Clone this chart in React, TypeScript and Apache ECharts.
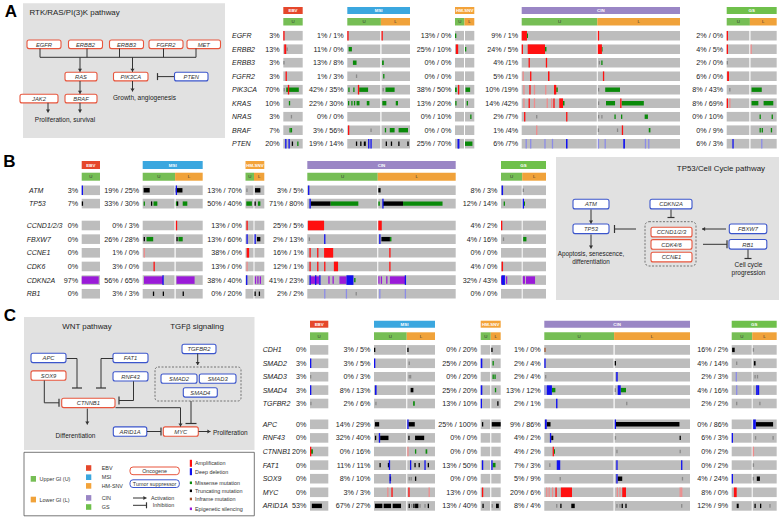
import React, { useEffect, useRef } from 'react';
import * as echarts from 'echarts';

const FONT = '"Liberation Sans", Arial, Helvetica, sans-serif';

// ---------------- data ----------------
type Mark = [string, string, number, number, string];

const subtypes = ['EBV', 'MSI', 'HM-SNV', 'CIN', 'GS'];
const segKeys = ['E', 'MU', 'ML', 'HU', 'HL', 'CU', 'CL', 'GU', 'GL'];
const segSubtype = [0, 1, 1, 2, 2, 3, 3, 4, 4];

const genesA = ['EGFR', 'ERBB2', 'ERBB3', 'FGFR2', 'PIK3CA', 'KRAS', 'NRAS', 'BRAF', 'PTEN'];
const pctA = [
  ['3%', '1% / 1%', '13% / 0%', '9% / 1%', '2% / 0%'],
  ['13%', '11% / 0%', '25% / 10%', '24% / 5%', '4% / 5%'],
  ['3%', '13% / 8%', '0% / 0%', '4% /1%', '2% / 0%'],
  ['3%', '1% / 3%', '0% / 0%', '5% /1%', '6% / 0%'],
  ['70%', '42% / 35%', '38% / 50%', '10% /19%', '8% / 43%'],
  ['10%', '22% / 30%', '13% / 20%', '14% /42%', '8% / 69%'],
  ['3%', '0% / 0%', '0% / 10%', '2% /7%', '0% / 10%'],
  ['7%', '3% / 56%', '0% / 0%', '1% /4%', '0% / 9%'],
  ['20%', '19% / 14%', '25% / 70%', '6% /7%', '6% / 3%'],
];

const genesB1 = ['ATM', 'TP53'];
const pctB1 = [
  ['3%', '19% / 25%', '13% / 70%', '3% / 5%', '8% / 3%'],
  ['7%', '33% / 30%', '50% / 40%', '71% / 80%', '12% / 14%'],
];
const genesB2 = ['CCND1/2/3', 'FBXW7', 'CCNE1', 'CDK6', 'CDKN2A', 'RB1'];
const pctB2 = [
  ['0%', '0% / 3%', '13% / 0%', '25% / 5%', '4% / 2%'],
  ['0%', '26% / 28%', '13% / 60%', '2% / 13%', '4% / 16%'],
  ['0%', '1% / 0%', '38% / 0%', '16% / 1%', '0% / 0%'],
  ['0%', '3% / 0%', '13% / 0%', '12% / 1%', '4% / 0%'],
  ['97%', '56% / 65%', '38% / 40%', '41% / 23%', '32% / 43%'],
  ['0%', '3% / 3%', '0% / 20%', '2% / 2%', '0% / 0%'],
];

const genesC1 = ['CDH1', 'SMAD2', 'SMAD3', 'SMAD4', 'TGFBR2'];
const pctC1 = [
  ['0%', '3% / 5%', '0% / 20%', '1% / 0%', '16% / 2%'],
  ['3%', '3% / 5%', '25% / 20%', '2% / 4%', '4% / 14%'],
  ['3%', '0% / 3%', '0% / 20%', '2% / 4%', '2% / 3%'],
  ['3%', '8% / 13%', '25% / 20%', '13% / 12%', '4% / 16%'],
  ['3%', '2% / 6%', '13% / 10%', '2% / 1%', '2% / 2%'],
];
const genesC2 = ['APC', 'RNF43', 'CTNNB1', 'FAT1', 'SOX9', 'MYC', 'ARID1A'];
const pctC2 = [
  ['0%', '14% / 29%', '25% / 100%', '9% / 86%', '0% / 86%'],
  ['0%', '32% / 40%', '0% / 0%', '4% / 2%', '6% / 3%'],
  ['20%', '0% / 16%', '0% / 0%', '4% / 2%', '0% / 2%'],
  ['0%', '11% / 11%', '13% / 50%', '7% / 3%', '0% / 2%'],
  ['0%', '8% / 10%', '0% / 0%', '5% / 9%', '4% / 24%'],
  ['0%', '3% / 3%', '13% / 0%', '20% / 6%', '8% / 0%'],
  ['53%', '67% / 27%', '13% / 40%', '8% / 4%', '12% / 9%'],
];

// [gene, segment, start fraction, end fraction, alteration]
const marksA: Mark[] = [
  ['EGFR', 'E', .02, .02, 'amp'], ['EGFR', 'MU', .02, .02, 'amp'], ['EGFR', 'ML', .01, .01, 'amp'],
  ['EGFR', 'HU', .05, .05, 'mis'], ['EGFR', 'CU', 0, .07, 'amp'], ['EGFR', 'CU', .075, .085, 'mis'],
  ['EGFR', 'CL', 0, 0, 'amp'], ['EGFR', 'GU', .02, .02, 'amp'],
  ['ERBB2', 'E', .05, .15, 'amp'], ['ERBB2', 'E', .2, .2, 'gry'], ['ERBB2', 'MU', .04, .14, 'mis'],
  ['ERBB2', 'HU', .1, .35, 'amp'], ['ERBB2', 'HL', .05, .05, 'mis'], ['ERBB2', 'CU', 0, 0, 'amp'],
  ['ERBB2', 'CU', .08, .31, 'amp'], ['ERBB2', 'CU', .31, .33, 'mis'], ['ERBB2', 'CL', 0, .05, 'amp'],
  ['ERBB2', 'CL', .05, .06, 'mis'], ['ERBB2', 'GU', .02, .02, 'amp'], ['ERBB2', 'GL', 0, 0, 'lamp'],
  ['ERBB3', 'E', .03, .03, 'gry'], ['ERBB3', 'MU', .17, .28, 'mis'], ['ERBB3', 'ML', .02, .08, 'mis'],
  ['ERBB3', 'CU', .1, .1, 'amp'], ['ERBB3', 'CU', .33, .33, 'amp'], ['ERBB3', 'CL', .02, .02, 'gry'],
  ['ERBB3', 'CL', .05, .05, 'mis'], ['ERBB3', 'GU', .02, .02, 'gry'],
  ['FGFR2', 'E', .15, .2, 'amp'], ['FGFR2', 'MU', .28, .28, 'gry'], ['FGFR2', 'ML', .08, .08, 'mis'],
  ['FGFR2', 'CU', .02, .02, 'lamp'], ['FGFR2', 'CU', .12, .12, 'amp'], ['FGFR2', 'CU', .35, .37, 'amp'],
  ['FGFR2', 'CL', .07, .07, 'amp'], ['FGFR2', 'GU', .02, .1, 'amp'],
  ['PIK3CA', 'E', .05, .05, 'gry'], ['PIK3CA', 'E', .15, .8, 'mis'], ['PIK3CA', 'E', .27, .27, 'amp'],
  ['PIK3CA', 'MU', .05, .05, 'mis'], ['PIK3CA', 'MU', .2, .2, 'mis'], ['PIK3CA', 'MU', .36, .63, 'mis'],
  ['PIK3CA', 'MU', .34, .34, 'amp'], ['PIK3CA', 'ML', .06, .06, 'gry'], ['PIK3CA', 'ML', .14, .46, 'mis'],
  ['PIK3CA', 'HU', 0, .2, 'mis'], ['PIK3CA', 'HU', .4, .4, 'amp'], ['PIK3CA', 'HL', .05, .55, 'mis'],
  ['PIK3CA', 'CU', .03, .03, 'lamp'], ['PIK3CA', 'CU', .11, .11, 'amp'], ['PIK3CA', 'CU', .17, .17, 'lamp'],
  ['PIK3CA', 'CU', .32, .32, 'lamp'], ['PIK3CA', 'CU', .43, .46, 'amp'], ['PIK3CA', 'CU', .46, .48, 'mis'],
  ['PIK3CA', 'CL', .01, .01, 'gry'], ['PIK3CA', 'CL', .09, .27, 'mis'], ['PIK3CA', 'GU', .14, .14, 'gry'],
  ['PIK3CA', 'GL', .04, .43, 'mis'],
  ['KRAS', 'E', .32, .38, 'mis'], ['KRAS', 'MU', .04, .04, 'mis'], ['KRAS', 'MU', .14, .14, 'mis'],
  ['KRAS', 'MU', .22, .22, 'mis'], ['KRAS', 'MU', .28, .37, 'mis'], ['KRAS', 'MU', .59, .67, 'mis'],
  ['KRAS', 'ML', .03, .17, 'mis'], ['KRAS', 'ML', .5, .58, 'mis'], ['KRAS', 'HU', .1, .1, 'mis'],
  ['KRAS', 'HL', .25, .3, 'mis'], ['KRAS', 'CU', .03, .03, 'lamp'], ['KRAS', 'CU', .1, .1, 'amp'],
  ['KRAS', 'CU', .17, .17, 'lamp'], ['KRAS', 'CU', .34, .34, 'lamp'], ['KRAS', 'CU', .4, .4, 'lamp'],
  ['KRAS', 'CU', .43, .43, 'amp'], ['KRAS', 'CU', .5, .55, 'amp'], ['KRAS', 'CU', .55, .57, 'mis'],
  ['KRAS', 'CL', .01, .01, 'gry'], ['KRAS', 'CL', .1, .21, 'mis'], ['KRAS', 'CL', .29, .56, 'mis'],
  ['KRAS', 'CL', .28, .28, 'amp'], ['KRAS', 'GU', .02, .02, 'amp'], ['KRAS', 'GU', .14, .14, 'lamp'],
  ['KRAS', 'GL', .04, .3, 'mis'], ['KRAS', 'GL', .5, .87, 'mis'],
  ['NRAS', 'E', .42, .42, 'gry'], ['NRAS', 'HL', .63, .63, 'mis'], ['NRAS', 'CU', .04, .04, 'amp'],
  ['NRAS', 'CU', .2, .2, 'gry'], ['NRAS', 'CU', .6, .6, 'amp'], ['NRAS', 'CL', .01, .01, 'gry'],
  ['NRAS', 'CL', .05, .05, 'gry'], ['NRAS', 'CL', .21, .21, 'mis'], ['NRAS', 'CL', .29, .29, 'mis'],
  ['NRAS', 'CL', .57, .61, 'mis'], ['NRAS', 'GL', .37, .37, 'mis'], ['NRAS', 'GL', .83, .83, 'mis'],
  ['BRAF', 'E', .35, .35, 'mis'], ['BRAF', 'E', .42, .42, 'mis'], ['BRAF', 'MU', .04, .04, 'amp'],
  ['BRAF', 'MU', .72, .72, 'gry'], ['BRAF', 'ML', .14, .14, 'mis'], ['BRAF', 'ML', .29, .46, 'mis'],
  ['BRAF', 'ML', .6, .93, 'mis'], ['BRAF', 'CU', .2, .2, 'lamp'], ['BRAF', 'CL', 0, 0, 'gry'],
  ['BRAF', 'CL', .24, .24, 'gry'], ['BRAF', 'CL', .3, .3, 'amp'], ['BRAF', 'CL', .62, .64, 'mis'],
  ['BRAF', 'GL', .37, .37, 'mis'], ['BRAF', 'GL', .45, .45, 'mis'], ['BRAF', 'GL', .8, .8, 'mis'],
  ['PTEN', 'E', .13, .13, 'del'], ['PTEN', 'E', .3, .3, 'del'], ['PTEN', 'E', .47, .5, 'trn'],
  ['PTEN', 'E', .75, .75, 'mis'], ['PTEN', 'MU', .28, .28, 'trn'], ['PTEN', 'MU', .41, .41, 'trn'],
  ['PTEN', 'MU', .5, .56, 'trn'], ['PTEN', 'MU', .65, .65, 'del'], ['PTEN', 'MU', .72, .72, 'del'],
  ['PTEN', 'ML', .17, .17, 'trn'], ['PTEN', 'ML', .35, .35, 'trn'], ['PTEN', 'ML', .61, .61, 'trn'],
  ['PTEN', 'ML', .93, .93, 'trn'], ['PTEN', 'HU', .35, .35, 'del'], ['PTEN', 'HU', .42, .42, 'del'],
  ['PTEN', 'HL', 0, .8, 'mis'], ['PTEN', 'CU', .06, .06, 'ldel'], ['PTEN', 'CU', .12, .12, 'ldel'],
  ['PTEN', 'CU', .31, .31, 'ldel'], ['PTEN', 'CU', .41, .41, 'ldel'], ['PTEN', 'CU', .59, .61, 'del'],
  ['PTEN', 'CL', 0, 0, 'ldel'], ['PTEN', 'CL', .09, .09, 'ldel'], ['PTEN', 'CL', .31, .33, 'del'],
  ['PTEN', 'CL', .58, .58, 'ldel'], ['PTEN', 'CL', .62, .62, 'ldel'], ['PTEN', 'GU', .28, .28, 'del'],
  ['PTEN', 'GL', .43, .43, 'ldel'],
];

const marksB: Mark[] = [
  ['ATM', 'E', 0, 0, 'del'], ['ATM', 'MU', .03, .22, 'trn'], ['ATM', 'ML', 0, .25, 'trn'], ['ATM', 'ML', 0, 0, 'del'],
  ['ATM', 'HU', .18, .18, 'gry'], ['ATM', 'HL', .05, .6, 'trn'], ['ATM', 'CU', .02, .02, 'del'],
  ['ATM', 'CL', 0, .03, 'trn'], ['ATM', 'GU', .03, .1, 'del'], ['ATM', 'GL', .02, .02, 'gry'],
  ['TP53', 'E', .04, .04, 'trn'], ['TP53', 'MU', .05, .07, 'mis'], ['TP53', 'MU', .28, .31, 'trn'],
  ['TP53', 'MU', .34, .46, 'mis'], ['TP53', 'ML', .03, .05, 'mis'], ['TP53', 'ML', .07, .09, 'trn'],
  ['TP53', 'ML', .26, .43, 'mis'], ['TP53', 'HU', .1, .8, 'mis'], ['TP53', 'HL', .05, .1, 'trn'],
  ['TP53', 'HL', .35, .6, 'mis'], ['TP53', 'CU', .05, .33, 'trn'], ['TP53', 'CU', .33, .73, 'mis'],
  ['TP53', 'CU', .03, .05, 'del'], ['TP53', 'CL', 0, .02, 'mis'], ['TP53', 'CL', .06, .32, 'trn'],
  ['TP53', 'CL', .32, .83, 'mis'], ['TP53', 'CL', .06, .07, 'del'], ['TP53', 'GU', .16, .19, 'mis'],
  ['TP53', 'GL', .02, .02, 'del'], ['TP53', 'GL', .07, .11, 'mis'],
  ['CCND1/2/3', 'ML', .03, .03, 'amp'], ['CCND1/2/3', 'HU', .2, .25, 'amp'], ['CCND1/2/3', 'CU', .01, .24, 'amp'],
  ['CCND1/2/3', 'CL', 0, .045, 'amp'], ['CCND1/2/3', 'GU', 0, .02, 'amp'],
  ['FBXW7', 'MU', .05, .05, 'trn'], ['FBXW7', 'MU', .12, .33, 'mis'], ['FBXW7', 'ML', .05, .05, 'trn'],
  ['FBXW7', 'ML', .1, .26, 'mis'], ['FBXW7', 'HU', .2, .3, 'del'], ['FBXW7', 'HL', .05, .05, 'del'],
  ['FBXW7', 'HL', .25, .6, 'trn'], ['FBXW7', 'CU', .03, .03, 'gry'], ['FBXW7', 'CU', .25, .26, 'del'],
  ['FBXW7', 'CL', .02, .02, 'del'], ['FBXW7', 'CL', .04, .15, 'trn'], ['FBXW7', 'CL', .15, .17, 'mis'],
  ['FBXW7', 'GU', .12, .12, 'gry'], ['FBXW7', 'GL', .02, .16, 'mis'],
  ['CCNE1', 'MU', .05, .05, 'lamp'], ['CCNE1', 'HU', .15, .45, 'amp'], ['CCNE1', 'CU', .04, .04, 'amp'],
  ['CCNE1', 'CU', .15, .15, 'amp'], ['CCNE1', 'CU', .24, .37, 'amp'], ['CCNE1', 'CL', .15, .15, 'amp'],
  ['CDK6', 'MU', .36, .37, 'amp'], ['CDK6', 'HU', .2, .3, 'lamp'], ['CDK6', 'CU', .04, .04, 'amp'],
  ['CDK6', 'CU', .15, .15, 'amp'], ['CDK6', 'CU', .25, .25, 'amp'], ['CDK6', 'CU', .38, .44, 'amp'],
  ['CDK6', 'CL', .15, .15, 'amp'], ['CDK6', 'GU', .03, .1, 'amp'],
  ['CDKN2A', 'E', 0, .93, 'epi'], ['CDKN2A', 'MU', .04, .64, 'epi'], ['CDKN2A', 'MU', .64, .65, 'del'],
  ['CDKN2A', 'ML', .03, .7, 'epi'], ['CDKN2A', 'HU', .15, .3, 'del'], ['CDKN2A', 'HL', .1, .1, 'epi'],
  ['CDKN2A', 'HL', .35, .35, 'epi'], ['CDKN2A', 'HL', .6, .6, 'epi'], ['CDKN2A', 'CU', .04, .17, 'epi'],
  ['CDKN2A', 'CU', .04, .05, 'del'], ['CDKN2A', 'CU', .12, .12, 'del'], ['CDKN2A', 'CU', .18, .19, 'del'],
  ['CDKN2A', 'CU', .31, .31, 'epi'], ['CDKN2A', 'CU', .37, .37, 'epi'], ['CDKN2A', 'CU', .46, .56, 'epi'],
  ['CDKN2A', 'CU', .56, .66, 'del'], ['CDKN2A', 'CU', .67, .69, 'mis'], ['CDKN2A', 'CL', 0, 0, 'epi'],
  ['CDKN2A', 'CL', .04, .04, 'epi'], ['CDKN2A', 'CL', .11, .11, 'epi'], ['CDKN2A', 'CL', .15, .35, 'epi'],
  ['CDKN2A', 'CL', .35, .36, 'del'], ['CDKN2A', 'GU', 0, .03, 'epi'], ['CDKN2A', 'GU', .03, .19, 'del'],
  ['CDKN2A', 'GU', .27, .27, 'epi'], ['CDKN2A', 'GL', 0, 0, 'epi'], ['CDKN2A', 'GL', .07, .07, 'epi'],
  ['CDKN2A', 'GL', .14, .53, 'epi'],
  ['RB1', 'MU', .34, .34, 'trn'], ['RB1', 'MU', .65, .65, 'trn'], ['RB1', 'ML', .28, .28, 'trn'],
  ['RB1', 'HL', .05, .05, 'trn'], ['RB1', 'HL', .5, .5, 'trn'], ['RB1', 'CU', .25, .25, 'ldel'],
  ['RB1', 'CU', .56, .56, 'ldel'], ['RB1', 'CU', .7, .7, 'gry'], ['RB1', 'CL', .02, .02, 'ldel'],
  ['RB1', 'CL', .35, .35, 'ldel'],
];

const marksC: Mark[] = [
  ['CDH1', 'MU', .01, .01, 'trn'], ['CDH1', 'ML', .02, .04, 'trn'], ['CDH1', 'HL', 0, .08, 'trn'],
  ['CDH1', 'CU', .01, .01, 'inf'], ['CDH1', 'GU', .02, .15, 'trn'], ['CDH1', 'GL', .03, .03, 'gry'],
  ['SMAD2', 'E', 0, .02, 'del'], ['SMAD2', 'MU', .01, .02, 'del'], ['SMAD2', 'ML', .07, .07, 'gry'],
  ['SMAD2', 'HU', 0, .17, 'del'], ['SMAD2', 'HL', .2, .3, 'mis'], ['SMAD2', 'CU', .01, .02, 'del'],
  ['SMAD2', 'CL', 0, .01, 'trn'], ['SMAD2', 'GU', .25, .25, 'gry'], ['SMAD2', 'GL', .05, .12, 'trn'],
  ['SMAD3', 'E', 0, 0, 'gry'], ['SMAD3', 'ML', .07, .07, 'gry'], ['SMAD3', 'ML', .12, .12, 'gry'],
  ['SMAD3', 'HL', .2, .2, 'mis'], ['SMAD3', 'HL', .4, .4, 'mis'], ['SMAD3', 'CU', .02, .02, 'gry'],
  ['SMAD3', 'CL', .02, .04, 'del'], ['SMAD3', 'GU', .23, .23, 'ldel'], ['SMAD3', 'GL', .1, .1, 'gry'],
  ['SMAD3', 'GL', .2, .2, 'gry'],
  ['SMAD4', 'E', 0, .02, 'del'], ['SMAD4', 'MU', .03, .08, 'del'], ['SMAD4', 'ML', .12, .22, 'trn'],
  ['SMAD4', 'HU', 0, .17, 'del'], ['SMAD4', 'HL', .45, .55, 'mis'], ['SMAD4', 'CU', .01, .01, 'ldel'],
  ['SMAD4', 'CU', .11, .16, 'mis'], ['SMAD4', 'CU', .035, .11, 'del'], ['SMAD4', 'CL', 0, 0, 'gry'],
  ['SMAD4', 'CL', .08, .15, 'mis'], ['SMAD4', 'CL', .04, .08, 'del'], ['SMAD4', 'GU', .25, .25, 'ldel'],
  ['SMAD4', 'GL', .17, .17, 'del'], ['SMAD4', 'GL', .19, .27, 'del'],
  ['TGFBR2', 'E', .05, .05, 'gry'], ['TGFBR2', 'MU', .06, .06, 'gry'], ['TGFBR2', 'ML', .21, .27, 'mis'],
  ['TGFBR2', 'HU', 0, .1, 'del'], ['TGFBR2', 'HL', .7, .75, 'trn'], ['TGFBR2', 'CU', .17, .19, 'del'],
  ['TGFBR2', 'CL', .16, .16, 'gry'], ['TGFBR2', 'GU', .25, .25, 'gry'], ['TGFBR2', 'GL', .3, .3, 'gry'],
  ['APC', 'MU', .03, .16, 'trn'], ['APC', 'ML', .04, .27, 'trn'], ['APC', 'ML', 0, .04, 'del'],
  ['APC', 'HU', .2, .3, 'trn'], ['APC', 'HL', .05, 1, 'trn'], ['APC', 'CU', .035, .09, 'trn'],
  ['APC', 'CU', .01, .035, 'del'], ['APC', 'CL', .015, .86, 'trn'], ['APC', 'CL', 0, .015, 'del'],
  ['APC', 'GL', .13, .85, 'trn'], ['APC', 'GL', .02, .13, 'del'],
  ['RNF43', 'MU', .05, .05, 'trn'], ['RNF43', 'MU', .19, .45, 'trn'], ['RNF43', 'MU', .17, .18, 'del'],
  ['RNF43', 'ML', .06, .06, 'trn'], ['RNF43', 'ML', .28, .61, 'trn'], ['RNF43', 'CU', .1, .13, 'trn'],
  ['RNF43', 'CU', .09, .09, 'del'], ['RNF43', 'CL', .01, .01, 'gry'], ['RNF43', 'CL', .87, .88, 'trn'],
  ['RNF43', 'GU', .02, .03, 'del'], ['RNF43', 'GL', .12, .12, 'gry'], ['RNF43', 'GL', .85, .85, 'gry'],
  ['CTNNB1', 'E', .05, .16, 'mis'], ['CTNNB1', 'E', 0, 0, 'amp'], ['CTNNB1', 'ML', .01, .01, 'lamp'],
  ['CTNNB1', 'ML', .3, .3, 'mis'], ['CTNNB1', 'ML', .66, .72, 'mis'], ['CTNNB1', 'CU', .145, .16, 'mis'],
  ['CTNNB1', 'CU', .13, .14, 'amp'], ['CTNNB1', 'CL', .03, .03, 'gry'], ['CTNNB1', 'CL', .87, .87, 'gry'],
  ['CTNNB1', 'GL', .03, .03, 'lamp'],
  ['FAT1', 'MU', .19, .19, 'trn'], ['FAT1', 'MU', .45, .47, 'trn'], ['FAT1', 'MU', .48, .49, 'del'],
  ['FAT1', 'ML', .12, .12, 'del'], ['FAT1', 'ML', .28, .28, 'trn'], ['FAT1', 'ML', .43, .43, 'trn'],
  ['FAT1', 'ML', .64, .64, 'del'], ['FAT1', 'ML', .76, .76, 'trn'], ['FAT1', 'HU', .2, .25, 'del'],
  ['FAT1', 'HL', .15, .45, 'mis'], ['FAT1', 'HL', 0, .05, 'del'], ['FAT1', 'CU', .08, .08, 'gry'],
  ['FAT1', 'CU', .18, .23, 'del'], ['FAT1', 'CL', .03, .03, 'del'], ['FAT1', 'CL', .89, .89, 'del'],
  ['FAT1', 'GL', .03, .03, 'gry'],
  ['SOX9', 'MU', .51, .55, 'trn'], ['SOX9', 'MU', .5, .5, 'del'], ['SOX9', 'ML', .07, .07, 'gry'],
  ['SOX9', 'ML', .14, .14, 'gry'], ['SOX9', 'ML', .3, .34, 'trn'], ['SOX9', 'CU', .23, .23, 'gry'],
  ['SOX9', 'CL', .04, .1, 'trn'], ['SOX9', 'CL', .03, .03, 'del'], ['SOX9', 'CL', .9, .9, 'gry'],
  ['SOX9', 'GU', .02, .03, 'del'], ['SOX9', 'GL', .03, .03, 'gry'], ['SOX9', 'GL', .17, .3, 'trn'],
  ['MYC', 'MU', .43, .43, 'lamp'], ['MYC', 'MU', .56, .56, 'amp'], ['MYC', 'ML', .06, .06, 'amp'],
  ['MYC', 'ML', .79, .79, 'lamp'], ['MYC', 'HU', .2, .33, 'amp'], ['MYC', 'CU', .035, .035, 'lamp'],
  ['MYC', 'CU', .07, .07, 'lamp'], ['MYC', 'CU', .12, .12, 'lamp'], ['MYC', 'CU', .17, .17, 'amp'],
  ['MYC', 'CU', .24, .4, 'amp'], ['MYC', 'CL', .035, .035, 'lamp'], ['MYC', 'CL', .07, .07, 'lamp'],
  ['MYC', 'CL', .1, .15, 'amp'], ['MYC', 'CL', .87, .87, 'lamp'], ['MYC', 'CL', .89, .89, 'lamp'],
  ['MYC', 'GU', .11, .25, 'amp'],
  ['ARID1A', 'E', .1, .65, 'trn'], ['ARID1A', 'MU', .03, .26, 'trn'], ['ARID1A', 'MU', .3, .53, 'trn'],
  ['ARID1A', 'MU', .58, .84, 'trn'], ['ARID1A', 'ML', .07, .07, 'trn'], ['ARID1A', 'ML', .16, .16, 'gry'],
  ['ARID1A', 'ML', .24, .24, 'trn'], ['ARID1A', 'ML', .28, .4, 'trn'], ['ARID1A', 'ML', .46, .46, 'gry'],
  ['ARID1A', 'ML', .64, .64, 'gry'], ['ARID1A', 'ML', .76, .78, 'trn'], ['ARID1A', 'HU', .25, .3, 'trn'],
  ['ARID1A', 'HL', .1, .1, 'gry'], ['ARID1A', 'HL', .5, .8, 'trn'], ['ARID1A', 'CU', .18, .18, 'gry'],
  ['ARID1A', 'CU', .24, .25, 'trn'], ['ARID1A', 'CU', .39, .44, 'trn'], ['ARID1A', 'CL', .03, .03, 'gry'],
  ['ARID1A', 'CL', .07, .07, 'gry'], ['ARID1A', 'CL', .1, .1, 'trn'], ['ARID1A', 'CL', .15, .15, 'trn'],
  ['ARID1A', 'CL', .89, .89, 'gry'], ['ARID1A', 'GU', .25, .35, 'trn'], ['ARID1A', 'GL', .1, .1, 'trn'],
  ['ARID1A', 'GL', .33, .33, 'trn'], ['ARID1A', 'GL', .72, .72, 'gry'],
];

const legendSubtypes = ['EBV', 'MSI', 'HM-SNV', 'CIN', 'GS'];
const legendAlterations = ['Amplification', 'Deep deletion', 'Missense mutation', 'Truncating mutation', 'Inframe mutation', 'Epigenetic silencing'];

// ---------------- styles ----------------
const subtypeColors = ['#E5472B', '#3BA7DF', '#F3A33A', '#9A86C5', '#6FC04B'];
const UCOL = '#76BE55';
const LCOL = '#F0A23A';
const TRACK = '#BDBDBD';
const typeKeys = ['bg', 'gry', 'lamp', 'ldel', 'epi', 'mis', 'trn', 'inf', 'amp', 'del'];
const typeColor: Record<string, string> = {
  bg: TRACK, gry: '#8A8A8A', lamp: '#EE8C8C', ldel: '#8C8CE6', epi: '#9A1BD8', mis: '#0A8A0A',
  trn: '#000000', inf: '#A0522D', amp: '#FF1010', del: '#1010F0',
};
const typeH: Record<string, number> = {
  bg: 9.6, gry: 3.6, lamp: 9.6, ldel: 9.6, epi: 7.5, mis: 4.4, trn: 4.4, inf: 4.4, amp: 9.6, del: 9.6,
};
const ORANGE_BOX = '#E8553C';
const BLUE_BOX = '#3B55CC';
const LABEL_SIZE = 7.2;
const GENE_SIZE = 7.0;
const NOTE_SIZE = 6.5;
const BOX_SIZE = 5.8;
const LEG_SIZE = 5.4;
const TITLE_SIZE = 7.9;

const panels = [
  {
    groups: [{ genes: genesA, pct: pctA, c0: 35.7, step: 13.5, geneX: 232 }],
    marks: marksA,
    segX: { E: [283.3, 302.7], MU: [347.3, 380.3], ML: [381.5, 410], HU: [455, 464], HL: [465, 474.3], CU: [521.7, 596.8], CL: [597.8, 680], GU: [726.7, 749.3], GL: [750.5, 776.7] },
    head: [7, 7, 18, 7.5],
  },
  {
    groups: [
      { genes: genesB1, pct: pctB1, c0: 190.3, step: 13.3, geneX: 29 },
      { genes: genesB2, pct: pctB2, c0: 225.5, step: 13.65, geneX: 26.7 },
    ],
    marks: marksB,
    segX: { E: [81.7, 100], MU: [142.7, 174.5], ML: [175.7, 202.7], HU: [245.5, 253.5], HL: [254.5, 264.3], CU: [307.3, 377.2], CL: [378.3, 455.7], GU: [501, 521.7], GL: [522.7, 546] },
    head: [161, 8, 172.7, 8],
  },
  {
    groups: [
      { genes: genesC1, pct: pctC1, c0: 349.9, step: 13.4, geneX: 262.7 },
      { genes: genesC2, pct: pctC2, c0: 424.3, step: 13.6, geneX: 262.7 },
    ],
    marks: marksC,
    segX: { E: [310, 328.3], MU: [374, 406.2], ML: [407.3, 435], HU: [480.7, 490.2], HL: [491.3, 500.7], CU: [544.3, 613.5], CL: [614.7, 690], GU: [731.7, 751.7], GL: [752.7, 776.7] },
    head: [320.7, 7, 332.3, 7.7],
  },
];

// ---------------- helpers for graphics ----------------
const T = (x: number, y: number, s: string, size = 8, o: any = {}) => ({
  type: 'text', x, y, silent: true, z: 10,
  style: {
    text: s, fill: o.fill || '#222', fontSize: size, fontFamily: FONT,
    fontStyle: o.italic ? 'italic' : 'normal', fontWeight: o.bold ? 'bold' : 'normal',
    align: o.align || 'center', verticalAlign: 'middle', textAlign: o.align || 'center', textVerticalAlign: 'middle',
  },
});
const R = (x: number, y: number, w: number, h: number, fill: string, o: any = {}) => ({
  type: 'rect', silent: true, z: o.z ?? 5, shape: { x, y, width: w, height: h, r: o.r || 0 },
  style: { fill, stroke: o.stroke || null, lineWidth: o.lw || 1, lineDash: o.dash || null },
});
const LN = (pts: number[][], o: any = {}) => ({
  type: 'polyline', silent: true, z: 8, shape: { points: pts },
  style: { stroke: o.stroke || '#333', lineWidth: o.lw || 1, fill: null },
});
const head = (tip: number[], dir: string, s = 2.6) => {
  const [x, y] = tip;
  let pts: number[][];
  if (dir === 'd') pts = [[x - s * 0.8, y - s * 1.2], [x + s * 0.8, y - s * 1.2], [x, y]];
  else if (dir === 'r') pts = [[x - s * 1.2, y - s * 0.8], [x - s * 1.2, y + s * 0.8], [x, y]];
  else pts = [[x + s * 1.2, y - s * 0.8], [x + s * 1.2, y + s * 0.8], [x, y]];
  return { type: 'polygon', silent: true, z: 8, shape: { points: pts }, style: { fill: '#333' } };
};
const arrow = (pts: number[][], dir: string) => [LN(pts), head(pts[pts.length - 1], dir)];
const inhib = (pts: number[][], dir: string, s = 4) => {
  const [x, y] = pts[pts.length - 1];
  const bar = dir === 'd' || dir === 'u' ? [[x - s, y], [x + s, y]] : [[x, y - s], [x, y + s]];
  return [LN(pts), LN(bar, { lw: 1.2 })];
};
const box = (label: string, x: number, y: number, w: number, h: number, kind: string) => [
  R(x, y, w, h, '#FFFFFF', { stroke: kind === 'o' ? ORANGE_BOX : BLUE_BOX, lw: 1.1, r: 2, z: 7 }),
  T(x + w / 2, y + h / 2 + 0.3, label, BOX_SIZE, { italic: true, fill: '#333' }),
];

function buildGraphics() {
  const g: any[] = [];
  // panel letters
  g.push(T(11, 11, 'A', 17, { bold: true, fill: '#000' }));
  g.push(T(9.5, 161, 'B', 17, { bold: true, fill: '#000' }));
  g.push(T(10, 315, 'C', 17, { bold: true, fill: '#000' }));

  // headers
  panels.forEach((P) => {
    const s = P.segX as Record<string, number[]>;
    const [ty, th, uy, uh] = P.head;
    const spans = [[s.E[0], s.E[1]], [s.MU[0], s.ML[1]], [s.HU[0], s.HL[1]], [s.CU[0], s.CL[1]], [s.GU[0], s.GL[1]]];
    spans.forEach((sp, i) => {
      g.push(R(sp[0], ty, sp[1] - sp[0], th, subtypeColors[i]));
      g.push(T((sp[0] + sp[1]) / 2, ty + th / 2, subtypes[i], 4.4, { fill: '#FFFFFF', bold: true }));
    });
    g.push(R(s.E[0], uy, s.E[1] - s.E[0], uh, UCOL));
    g.push(T((s.E[0] + s.E[1]) / 2, uy + uh / 2, 'U', 4.4, { fill: '#333' }));
    [['MU', 'ML'], ['HU', 'HL'], ['CU', 'CL'], ['GU', 'GL']].forEach(([u, l]) => {
      const mid = (s[u][1] + s[l][0]) / 2;
      g.push(R(s[u][0], uy, mid - s[u][0], uh, UCOL));
      g.push(R(mid, uy, s[l][1] - mid, uh, LCOL));
      g.push(T((s[u][0] + mid) / 2, uy + uh / 2, 'U', 4.4, { fill: '#333' }));
      g.push(T((mid + s[l][1]) / 2, uy + uh / 2, 'L', 4.4, { fill: '#333' }));
    });
  });

  // ---- Panel A pathway ----
  g.push(R(23, 3.3, 202, 134.7, '#E1E1E1', { z: 1 }));
  g.push(T(29.5, 12.5, 'RTK/RAS/PI(3)K pathway', TITLE_SIZE, { align: 'left' }));
  const stems = [40, 87, 119.5, 163.5, 196];
  stems.forEach((x) => g.push(LN([[x, 48.5], [x, 57.3]])));
  g.push(LN([[40, 57.3], [196, 57.3]]));
  g.push(...arrow([[80, 57.3], [80, 71.8]], 'd'));
  g.push(...arrow([[132.5, 57.3], [132.5, 71.8]], 'd'));
  g.push(...inhib([[174, 76.6], [157.5, 76.6]], 'l', 3.5));
  g.push(...arrow([[80, 81], [80, 93.8]], 'd'));
  g.push(...arrow([[132.5, 81], [132.5, 91.5]], 'd'));
  g.push(...arrow([[48, 102.8], [48, 112.5]], 'd'));
  g.push(...arrow([[80, 102.8], [80, 112.5]], 'd'));
  [['EGFR', 27, 40, 34, 'o'], ['ERBB2', 68.5, 40, 34, 'o'], ['ERBB3', 109.5, 40, 34, 'o'], ['FGFR2', 149, 40, 34, 'o'], ['MET', 187, 40, 33.5, 'o'],
   ['RAS', 65, 72.3, 32, 'o'], ['PIK3CA', 113.5, 72.3, 34.5, 'o'], ['PTEN', 174.5, 72.3, 33.5, 't'],
   ['JAK2', 20, 94.3, 38, 'o'], ['BRAF', 65, 94.3, 32, 'o']].forEach((b: any) => g.push(...box(b[0], b[1], b[2], b[3], 8.6, b[4])));
  g.push(T(144.5, 97.8, 'Growth, angiogenesis', NOTE_SIZE));
  g.push(T(65, 119, 'Proliferation, survival', NOTE_SIZE));

  // ---- Panel B pathway ----
  g.push(R(556, 157, 223, 143, '#E1E1E1', { z: 1 }));
  g.push(T(765, 168, 'TP53/Cell Cycle pathway', TITLE_SIZE, { align: 'right' }));
  g.push(R(645, 221.7, 51, 44.3, 'none', { stroke: '#555', lw: 0.8, dash: [2, 1.5], r: 4, z: 6 }));
  g.push(...arrow([[591, 209.5], [591, 223.6]], 'd'));
  g.push(...arrow([[591, 234.5], [591, 248.5]], 'd'));
  g.push(...inhib([[671, 209.5], [671, 217.5]], 'd', 3.5));
  g.push(...inhib([[636, 229], [614.5, 229]], 'l', 4));
  g.push(...arrow([[726, 229], [702, 229]], 'l'));
  g.push(...inhib([[703, 244.3], [727, 244.3]], 'r', 4));
  g.push(...inhib([[748, 249.5], [748, 258.5]], 'd', 3.5));
  [['ATM', 573, 199.3, 36, 't'], ['TP53', 573, 224, 36, 't'], ['CDKN2A', 650, 199.3, 42, 't'],
   ['CCND1/2/3', 651, 227.3, 41, 'o'], ['CDK4/6', 651, 239.6, 41, 'o'], ['CCNE1', 651, 252.3, 41, 'o'],
   ['FBXW7', 729.3, 224, 37.5, 't'], ['RB1', 729, 239.5, 37.8, 't']].forEach((b: any) => g.push(...box(b[0], b[1], b[2], b[3], 9.6, b[4])));
  g.push(T(591, 253.4, 'Apoptosis, senescence,', 6.3));
  g.push(T(591, 261.6, 'differentiation', 6.3));
  g.push(T(748.5, 264.4, 'Cell cycle', NOTE_SIZE));
  g.push(T(748.5, 272.4, 'progression', NOTE_SIZE));

  // ---- Panel C pathway ----
  g.push(R(24, 317, 230.5, 133, '#E1E1E1', { z: 1 }));
  g.push(T(87, 326.7, 'WNT pathway', TITLE_SIZE));
  g.push(T(197, 326.7, 'TGFβ signaling', TITLE_SIZE));
  g.push(R(155, 367, 86, 34, 'none', { stroke: '#555', lw: 0.8, dash: [2, 1.5], r: 3, z: 6 }));
  g.push(...inhib([[66.5, 358.5], [77, 358.5], [77, 388]], 'd', 5));
  g.push(...inhib([[113, 358.5], [101, 358.5], [101, 388]], 'd', 5));
  g.push(...inhib([[44.3, 380.5], [44.3, 402.8], [59, 402.8]], 'r', 4));
  g.push(...inhib([[133.5, 381.3], [133.5, 400.5], [119, 400.5]], 'l', 4));
  g.push(...arrow([[115.5, 407.7], [180.5, 407.7], [180.5, 426.5]], 'd'));
  g.push(...inhib([[191, 401], [191, 423.5]], 'd', 5.5));
  g.push(...arrow([[197.7, 353.6], [197.7, 365]], 'd'));
  g.push(...arrow([[87.3, 408.6], [87.3, 424.5]], 'd'));
  g.push(...inhib([[147, 431.5], [161, 431.5]], 'r', 4));
  g.push(...arrow([[198.5, 431.5], [210.5, 431.5]], 'r'));
  [['APC', 31, 353.3, 35, 't'], ['SOX9', 31, 370.9, 35, 'o'], ['FAT1', 113, 353.3, 35, 't'], ['RNF43', 113, 371.7, 35, 't'],
   ['TGFBR2', 182, 344.3, 34, 't'], ['SMAD2', 161, 374, 36, 't'], ['SMAD3', 199.3, 374, 36.7, 't'], ['SMAD4', 183.3, 387.8, 34, 't'],
   ['CTNNB1', 61.7, 398.3, 53.3, 'o'], ['ARID1A', 113.3, 426.9, 33.5, 't'], ['MYC', 163.3, 426.9, 35, 'o']].forEach((b: any) => g.push(...box(b[0], b[1], b[2], b[3], 9.3, b[4])));
  g.push(T(75.5, 435.6, 'Differentiation', NOTE_SIZE));
  g.push(T(213, 432, 'Proliferation', NOTE_SIZE, { align: 'left' }));

  // ---- Legend ----
  g.push(R(24, 452.3, 230.3, 63.5, '#FFFFFF', { stroke: '#555', lw: 0.8, z: 1 }));
  g.push(R(30.7, 476, 5.3, 5.7, UCOL));
  g.push(T(39.5, 479, 'Upper GI (U)', LEG_SIZE, { align: 'left', fill: '#333' }));
  g.push(R(30.7, 496.7, 5.3, 5.7, LCOL));
  g.push(T(39.5, 499.7, 'Lower GI (L)', LEG_SIZE, { align: 'left', fill: '#333' }));
  const legY = [468, 477.2, 485.9, 497.9, 507];
  legendSubtypes.forEach((s, i) => {
    g.push(R(86, legY[i] - 2.8, 5.3, 5.6, subtypeColors[i]));
    g.push(T(101.7, legY[i], s, LEG_SIZE, { align: 'left', fill: '#333' }));
  });
  g.push(R(130, 467, 49.3, 7.7, '#FFFFFF', { stroke: ORANGE_BOX, lw: 1, r: 3, z: 7 }));
  g.push(T(154.6, 470.9, 'Oncogene', LEG_SIZE, { fill: '#333' }));
  g.push(R(130, 479.8, 49.3, 7.7, '#FFFFFF', { stroke: BLUE_BOX, lw: 1, r: 3, z: 7 }));
  g.push(T(154.6, 483.7, 'Tumor suppressor', LEG_SIZE, { fill: '#333' }));
  g.push(...arrow([[133, 498], [146.5, 498]], 'r'));
  g.push(T(151, 497.7, 'Activation', LEG_SIZE, { align: 'left', fill: '#333' }));
  g.push(...inhib([[133, 505.3], [146.5, 505.3]], 'r', 3));
  g.push(T(152.7, 504.6, 'Inhibition', LEG_SIZE, { align: 'left', fill: '#333' }));
  const altCol = [typeColor.amp, typeColor.del, typeColor.mis, typeColor.trn, typeColor.inf, typeColor.epi];
  const altY = [463.3, 471.7, 482.8, 490.8, 499, 508.8];
  const altH = [7, 7, 2.6, 2.6, 2.6, 2.6];
  legendAlterations.forEach((s, i) => {
    g.push(R(189.8, altY[i] - altH[i] / 2, 2.2, altH[i], altCol[i]));
    g.push(T(195, altY[i], s, LEG_SIZE, { align: 'left', fill: '#333' }));
  });
  return g;
}

// ---------------- option ----------------
function buildOption() {
  const grid: any[] = [], xAxis: any[] = [], yAxis: any[] = [], series: any[] = [];
  const labelBase = { fontSize: LABEL_SIZE, fontFamily: FONT, color: '#222', interval: 0 };
  const renderTrack = (params: any, api: any) => {
    const s = api.value(0), r = api.value(1), e = api.value(2), t = typeKeys[api.value(3)];
    const cs = params.coordSys;
    const a = api.coord([s, r]), b = api.coord([e, r]);
    const h = typeH[t];
    let x = a[0], w = b[0] - a[0];
    if (w < 1.3) { w = 1.3; x = a[0] - 0.65; }
    x = Math.max(cs.x, Math.min(x, cs.x + cs.width - w));
    return { type: 'rect', shape: { x, y: a[1] - h / 2, width: w, height: h }, style: { fill: typeColor[t] } };
  };
  panels.forEach((P) => {
    P.groups.forEach((G) => {
      segKeys.forEach((sk, si) => {
        const [x0, x1] = (P.segX as Record<string, number[]>)[sk];
        const gi = grid.length;
        grid.push({ left: x0, top: G.c0 - G.step / 2, width: x1 - x0, height: G.step * G.genes.length, containLabel: false });
        xAxis.push({ gridIndex: gi, type: 'value', min: 0, max: 1, show: false });
        const sub = segSubtype[si];
        const showPct = sk === 'E' || sk.endsWith('U');
        const yi = yAxis.length;
        yAxis.push({
          gridIndex: gi, type: 'category', data: G.genes, inverse: true, position: 'left',
          axisLine: { show: false }, axisTick: { show: false }, splitLine: { show: false },
          axisLabel: { ...labelBase, show: showPct, margin: 3.6, formatter: (_v: string, i: number) => G.pct[i][sub] },
        });
        if (sk === 'E') {
          yAxis.push({
            gridIndex: gi, type: 'category', data: G.genes, inverse: true, position: 'left', offset: 0,
            axisLine: { show: false }, axisTick: { show: false }, splitLine: { show: false },
            axisLabel: { ...labelBase, fontSize: GENE_SIZE, fontStyle: 'italic', align: 'left', margin: x0 - G.geneX },
          });
        }
        const bg = G.genes.map((_g, i) => [0, i, 1, 0]);
        const md = P.marks
          .filter((m) => m[1] === sk && G.genes.includes(m[0]))
          .map((m) => [m[2], G.genes.indexOf(m[0]), m[3], typeKeys.indexOf(m[4])])
          .sort((p, q) => p[3] - q[3]);
        series.push({ type: 'custom', xAxisIndex: gi, yAxisIndex: yi, data: bg, encode: { x: [0, 2], y: 1 }, renderItem: renderTrack, z: 2, silent: true, clip: false });
        series.push({ type: 'custom', xAxisIndex: gi, yAxisIndex: yi, data: md, encode: { x: [0, 2], y: 1 }, renderItem: renderTrack, z: 3, silent: true, clip: false });
      });
    });
  });
  return {
    animation: false,
    backgroundColor: '#FFFFFF',
    textStyle: { fontFamily: FONT },
    grid, xAxis, yAxis, series,
    graphic: { elements: buildGraphics() },
  };
}

export default function App() {
  const ref = useRef<HTMLDivElement>(null);
  useEffect(() => {
    if (!ref.current) return;
    const chart = echarts.init(ref.current, undefined, { renderer: 'svg' });
    chart.setOption(buildOption() as any);
    return () => chart.dispose();
  }, []);
  return <div ref={ref} style={{ position: 'fixed', left: 0, top: 0, width: 781, height: 519, background: '#fff' }} />;
}
